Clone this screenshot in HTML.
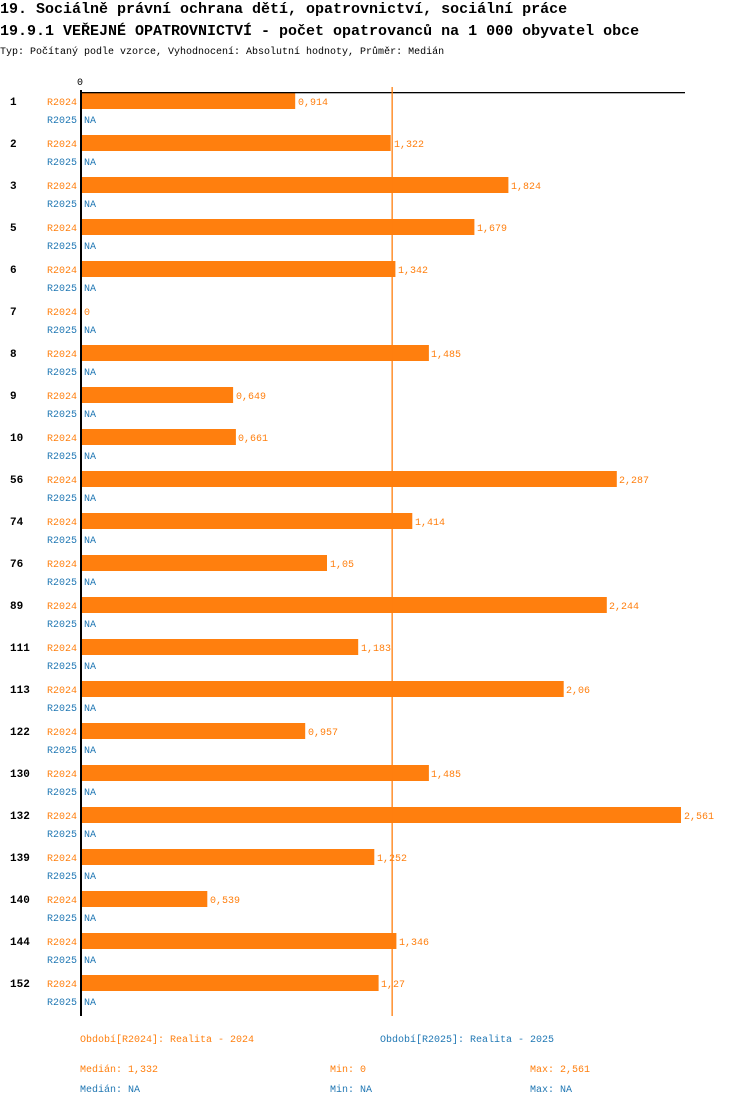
<!DOCTYPE html>
<html><head><meta charset="utf-8"><style>
body{margin:0;background:#fff}
svg text{font-family:"Liberation Mono",monospace}
.o{fill:#ff7f0e;font-size:10px}.b{fill:#1f77b4;font-size:10px}.n{font-size:11px;font-weight:bold;fill:#000}
</style></head><body>
<svg width="750" height="1106" xmlns="http://www.w3.org/2000/svg">
<text x="0" y="13" font-size="15" font-weight="bold" fill="#000" style="font-size:15px">19. Sociálně právní ochrana dětí, opatrovnictví, sociální práce</text>
<text x="0" y="35" font-size="15" font-weight="bold" fill="#000" style="font-size:15px">19.9.1 VEŘEJNÉ OPATROVNICTVÍ - počet opatrovanců na 1 000 obyvatel obce</text>
<text x="0" y="54" style="font-size:10px" fill="#000">Typ: Počítaný podle vzorce, Vyhodnocení: Absolutní hodnoty, Průměr: Medián</text>
<text x="77" y="85" style="font-size:10px" fill="#000">0</text>
<g fill="#ff7f0e">
<rect x="81" y="93" width="214.2" height="16"/>
<rect x="81" y="135" width="309.7" height="16"/>
<rect x="81" y="177" width="427.4" height="16"/>
<rect x="81" y="219" width="393.4" height="16"/>
<rect x="81" y="261" width="314.4" height="16"/>
<rect x="81" y="345" width="347.9" height="16"/>
<rect x="81" y="387" width="152.1" height="16"/>
<rect x="81" y="429" width="154.9" height="16"/>
<rect x="81" y="471" width="535.8" height="16"/>
<rect x="81" y="513" width="331.3" height="16"/>
<rect x="81" y="555" width="246" height="16"/>
<rect x="81" y="597" width="525.8" height="16"/>
<rect x="81" y="639" width="277.2" height="16"/>
<rect x="81" y="681" width="482.7" height="16"/>
<rect x="81" y="723" width="224.2" height="16"/>
<rect x="81" y="765" width="347.9" height="16"/>
<rect x="81" y="807" width="600" height="16"/>
<rect x="81" y="849" width="293.3" height="16"/>
<rect x="81" y="891" width="126.3" height="16"/>
<rect x="81" y="933" width="315.4" height="16"/>
<rect x="81" y="975" width="297.6" height="16"/>
</g>
<rect x="80" y="92" width="605" height="1.3" fill="#000"/>
<rect x="391.5" y="87" width="1.3" height="929" fill="#ff7f0e"/>
<rect x="80" y="90" width="2" height="926" fill="#000"/>
<g class="n">
<text class="n" x="10" y="105">1</text><text class="n" x="10" y="147">2</text><text class="n" x="10" y="189">3</text><text class="n" x="10" y="231">5</text><text class="n" x="10" y="273">6</text><text class="n" x="10" y="315">7</text><text class="n" x="10" y="357">8</text><text class="n" x="10" y="399">9</text><text class="n" x="10" y="441">10</text><text class="n" x="10" y="483">56</text><text class="n" x="10" y="525">74</text><text class="n" x="10" y="567">76</text><text class="n" x="10" y="609">89</text><text class="n" x="10" y="651">111</text><text class="n" x="10" y="693">113</text><text class="n" x="10" y="735">122</text><text class="n" x="10" y="777">130</text><text class="n" x="10" y="819">132</text><text class="n" x="10" y="861">139</text><text class="n" x="10" y="903">140</text><text class="n" x="10" y="945">144</text><text class="n" x="10" y="987">152</text>
</g>
<g>
<text class="o" x="47" y="105">R2024</text><text class="o" x="47" y="147">R2024</text><text class="o" x="47" y="189">R2024</text><text class="o" x="47" y="231">R2024</text><text class="o" x="47" y="273">R2024</text><text class="o" x="47" y="315">R2024</text><text class="o" x="47" y="357">R2024</text><text class="o" x="47" y="399">R2024</text><text class="o" x="47" y="441">R2024</text><text class="o" x="47" y="483">R2024</text><text class="o" x="47" y="525">R2024</text><text class="o" x="47" y="567">R2024</text><text class="o" x="47" y="609">R2024</text><text class="o" x="47" y="651">R2024</text><text class="o" x="47" y="693">R2024</text><text class="o" x="47" y="735">R2024</text><text class="o" x="47" y="777">R2024</text><text class="o" x="47" y="819">R2024</text><text class="o" x="47" y="861">R2024</text><text class="o" x="47" y="903">R2024</text><text class="o" x="47" y="945">R2024</text><text class="o" x="47" y="987">R2024</text>
<text class="b" x="47" y="123">R2025</text><text class="b" x="47" y="165">R2025</text><text class="b" x="47" y="207">R2025</text><text class="b" x="47" y="249">R2025</text><text class="b" x="47" y="291">R2025</text><text class="b" x="47" y="333">R2025</text><text class="b" x="47" y="375">R2025</text><text class="b" x="47" y="417">R2025</text><text class="b" x="47" y="459">R2025</text><text class="b" x="47" y="501">R2025</text><text class="b" x="47" y="543">R2025</text><text class="b" x="47" y="585">R2025</text><text class="b" x="47" y="627">R2025</text><text class="b" x="47" y="669">R2025</text><text class="b" x="47" y="711">R2025</text><text class="b" x="47" y="753">R2025</text><text class="b" x="47" y="795">R2025</text><text class="b" x="47" y="837">R2025</text><text class="b" x="47" y="879">R2025</text><text class="b" x="47" y="921">R2025</text><text class="b" x="47" y="963">R2025</text><text class="b" x="47" y="1005">R2025</text>
<text class="b" x="84" y="123">NA</text><text class="b" x="84" y="165">NA</text><text class="b" x="84" y="207">NA</text><text class="b" x="84" y="249">NA</text><text class="b" x="84" y="291">NA</text><text class="b" x="84" y="333">NA</text><text class="b" x="84" y="375">NA</text><text class="b" x="84" y="417">NA</text><text class="b" x="84" y="459">NA</text><text class="b" x="84" y="501">NA</text><text class="b" x="84" y="543">NA</text><text class="b" x="84" y="585">NA</text><text class="b" x="84" y="627">NA</text><text class="b" x="84" y="669">NA</text><text class="b" x="84" y="711">NA</text><text class="b" x="84" y="753">NA</text><text class="b" x="84" y="795">NA</text><text class="b" x="84" y="837">NA</text><text class="b" x="84" y="879">NA</text><text class="b" x="84" y="921">NA</text><text class="b" x="84" y="963">NA</text><text class="b" x="84" y="1005">NA</text>
<text class="o" x="298" y="105">0,914</text>
<text class="o" x="394" y="147">1,322</text>
<text class="o" x="511" y="189">1,824</text>
<text class="o" x="477" y="231">1,679</text>
<text class="o" x="398" y="273">1,342</text>
<text class="o" x="84" y="315">0</text>
<text class="o" x="431" y="357">1,485</text>
<text class="o" x="236" y="399">0,649</text>
<text class="o" x="238" y="441">0,661</text>
<text class="o" x="619" y="483">2,287</text>
<text class="o" x="415" y="525">1,414</text>
<text class="o" x="330" y="567">1,05</text>
<text class="o" x="609" y="609">2,244</text>
<text class="o" x="361" y="651">1,183</text>
<text class="o" x="566" y="693">2,06</text>
<text class="o" x="308" y="735">0,957</text>
<text class="o" x="431" y="777">1,485</text>
<text class="o" x="684" y="819">2,561</text>
<text class="o" x="377" y="861">1,252</text>
<text class="o" x="210" y="903">0,539</text>
<text class="o" x="399" y="945">1,346</text>
<text class="o" x="381" y="987">1,27</text>
</g>
<text class="o" x="80" y="1042">Období[R2024]: Realita - 2024</text>
<text class="b" x="380" y="1042">Období[R2025]: Realita - 2025</text>
<text class="o" x="80" y="1072">Medián: 1,332</text>
<text class="o" x="330" y="1072">Min: 0</text>
<text class="o" x="530" y="1072">Max: 2,561</text>
<text class="b" x="80" y="1092">Medián: NA</text>
<text class="b" x="330" y="1092">Min: NA</text>
<text class="b" x="530" y="1092">Max: NA</text>
</svg>
</body></html>
